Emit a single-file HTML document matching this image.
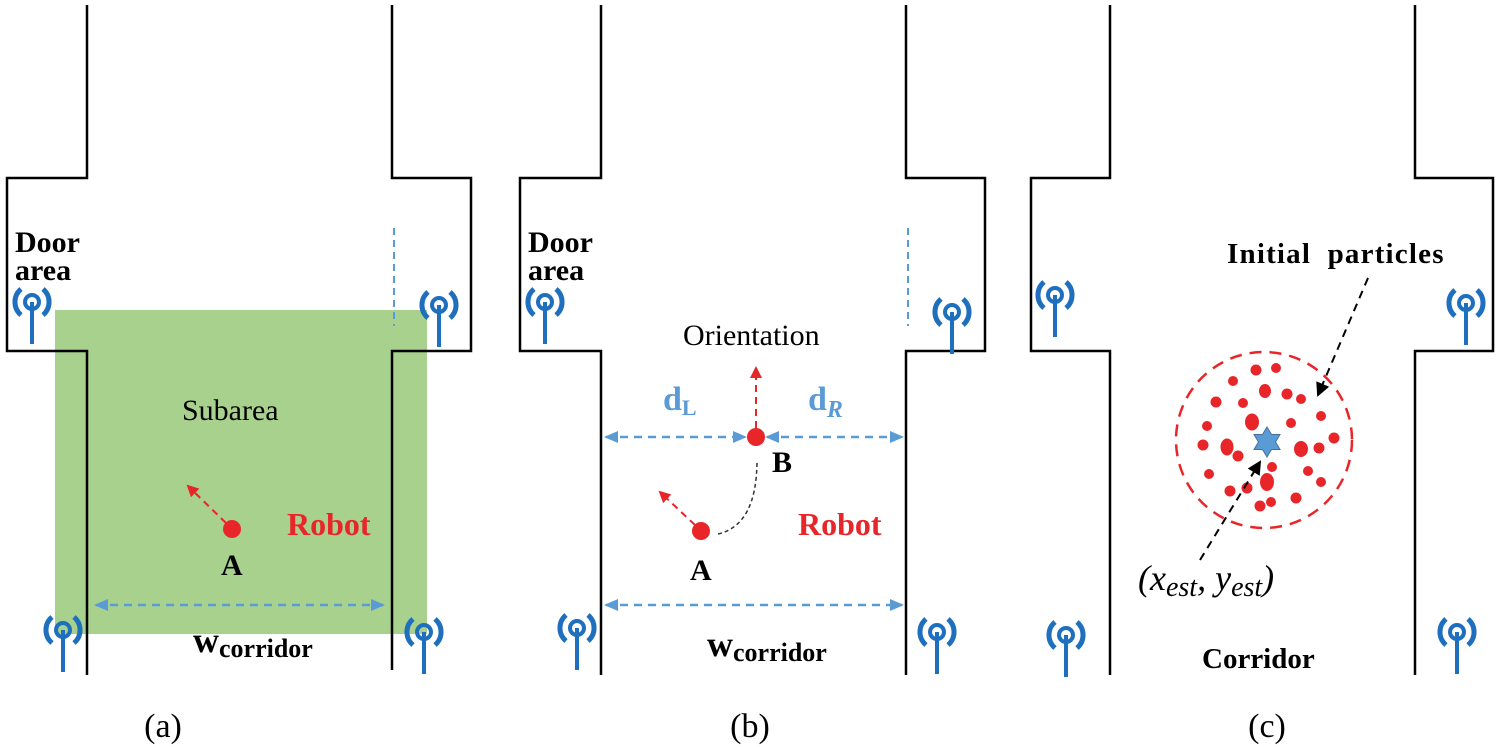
<!DOCTYPE html>
<html><head><meta charset="utf-8"><style>
html,body{margin:0;padding:0;background:#fff}
svg{display:block}
svg text{font-family:"Liberation Serif","DejaVu Serif",serif}
</style></head><body>
<svg width="1500" height="747" viewBox="0 0 1500 747" xmlns="http://www.w3.org/2000/svg" font-family="Liberation Serif, DejaVu Serif, serif">
<defs>
<g id="ant">
<circle cx="0" cy="0" r="7" fill="none" stroke="#1f6fbf" stroke-width="4"/>
<line x1="0" y1="0" x2="0" y2="42" stroke="#1f6fbf" stroke-width="4"/>
<path d="M-11,-13 A17,17 0 0 0 -11,13" fill="none" stroke="#1f6fbf" stroke-width="5"/>
<path d="M11,-13 A17,17 0 0 1 11,13" fill="none" stroke="#1f6fbf" stroke-width="5"/>
</g>
<marker id="bh" markerWidth="14" markerHeight="12" refX="12" refY="6" orient="auto" markerUnits="userSpaceOnUse"><path d="M0,0 L14,6 L0,12 z" fill="#5b9bd5"/></marker>
<marker id="bt" markerWidth="14" markerHeight="12" refX="2" refY="6" orient="auto" markerUnits="userSpaceOnUse"><path d="M14,0 L0,6 L14,12 z" fill="#5b9bd5"/></marker>
<marker id="rh" markerWidth="12" markerHeight="12" refX="10" refY="6" orient="auto" markerUnits="userSpaceOnUse"><path d="M0,0 L12,6 L0,12 z" fill="#e8262a"/></marker>
<marker id="kh" markerWidth="14" markerHeight="14" refX="12" refY="7" orient="auto" markerUnits="userSpaceOnUse"><path d="M0,0 L14,7 L0,14 z" fill="#000"/></marker>
</defs>

<!-- Panel a -->
<rect x="55" y="310" width="372" height="324" fill="#a9d18e"/>
<g fill="none" stroke="#000" stroke-width="2.5">
<polyline points="87,5 87,178 7,178 7,351 87,351 87,675"/>
<polyline points="392,5 392,178 471,178 471,351 392,351 392,670"/>
</g>
<line x1="394" y1="228" x2="394" y2="326" stroke="#5b9bd5" stroke-width="2" stroke-dasharray="7,5"/>
<use href="#ant" x="32" y="302"/>
<use href="#ant" x="439" y="305"/>
<use href="#ant" x="63" y="630"/>
<use href="#ant" x="424" y="632"/>
<text x="15" y="252" font-size="30" font-weight="bold">Door</text>
<text x="15" y="280" font-size="30" font-weight="bold">area</text>
<text x="182" y="420" font-size="30">Subarea</text>
<line x1="226" y1="523" x2="188" y2="486" stroke="#e8262a" stroke-width="2" stroke-dasharray="7,5" marker-end="url(#rh)"/>
<circle cx="232" cy="529" r="9" fill="#e8262a"/>
<text x="287" y="535" font-size="32" font-weight="bold" fill="#e8262a">Robot</text>
<text x="221" y="575" font-size="30" font-weight="bold">A</text>
<line x1="96" y1="605" x2="383" y2="605" stroke="#5b9bd5" stroke-width="2.5" stroke-dasharray="8,6" marker-start="url(#bt)" marker-end="url(#bh)"/>
<text x="193" y="652" font-size="36" font-weight="bold">w<tspan font-size="26" dy="5">corridor</tspan></text>
<text x="163" y="737" font-size="34" text-anchor="middle">(a)</text>

<!-- Panel b -->
<g fill="none" stroke="#000" stroke-width="2.5">
<polyline points="601,5 601,178 520,178 520,351 601,351 601,675"/>
<polyline points="906,5 906,178 985,178 985,351 906,351 906,675"/>
</g>
<line x1="908" y1="228" x2="908" y2="326" stroke="#5b9bd5" stroke-width="2" stroke-dasharray="7,5"/>
<use href="#ant" x="545" y="302"/>
<use href="#ant" x="952" y="312"/>
<use href="#ant" x="577" y="628"/>
<use href="#ant" x="937" y="632"/>
<text x="528" y="252" font-size="30" font-weight="bold">Door</text>
<text x="528" y="280" font-size="30" font-weight="bold">area</text>
<text x="683" y="345" font-size="30">Orientation</text>
<text x="663" y="410" font-size="34" font-weight="bold" fill="#5b9bd5">d<tspan font-size="22" dy="5">L</tspan></text>
<text x="808" y="410" font-size="34" font-weight="bold" fill="#5b9bd5">d<tspan font-size="24" dy="7" font-style="italic">R</tspan></text>
<line x1="756" y1="428" x2="756" y2="368" stroke="#e8262a" stroke-width="2" stroke-dasharray="7,5" marker-end="url(#rh)"/>
<line x1="606" y1="437" x2="745" y2="437" stroke="#5b9bd5" stroke-width="2.5" stroke-dasharray="8,6" marker-start="url(#bt)" marker-end="url(#bh)"/>
<line x1="767" y1="437" x2="902" y2="437" stroke="#5b9bd5" stroke-width="2.5" stroke-dasharray="8,6" marker-start="url(#bt)" marker-end="url(#bh)"/>
<circle cx="756" cy="437" r="9" fill="#e8262a"/>
<text x="772" y="472" font-size="30" font-weight="bold">B</text>
<path d="M718,534 Q757,525 757,460" fill="none" stroke="#333" stroke-width="1.5" stroke-dasharray="4,3"/>
<line x1="695" y1="525" x2="660" y2="492" stroke="#e8262a" stroke-width="2" stroke-dasharray="7,5" marker-end="url(#rh)"/>
<circle cx="701" cy="531" r="9" fill="#e8262a"/>
<text x="798" y="535" font-size="32" font-weight="bold" fill="#e8262a">Robot</text>
<text x="690" y="580" font-size="30" font-weight="bold">A</text>
<line x1="606" y1="605" x2="902" y2="605" stroke="#5b9bd5" stroke-width="2.5" stroke-dasharray="8,6" marker-start="url(#bt)" marker-end="url(#bh)"/>
<text x="707" y="656" font-size="36" font-weight="bold">w<tspan font-size="26" dy="5">corridor</tspan></text>
<text x="750" y="737" font-size="34" text-anchor="middle">(b)</text>

<!-- Panel c -->
<g fill="none" stroke="#000" stroke-width="2.5">
<polyline points="1110,5 1110,178 1031,178 1031,351 1110,351 1110,675"/>
<polyline points="1415,5 1415,178 1493,178 1493,351 1415,351 1415,675"/>
</g>
<use href="#ant" x="1055" y="295"/>
<use href="#ant" x="1466" y="303"/>
<use href="#ant" x="1066" y="635"/>
<use href="#ant" x="1457" y="632"/>
<text x="1227" y="263" font-size="29" font-weight="bold" letter-spacing="1.2" word-spacing="8">Initial particles</text>
<circle cx="1264" cy="440" r="88" fill="none" stroke="#e8262a" stroke-width="2.5" stroke-dasharray="12,8"/>
<g fill="#e8262a">
<circle cx="1256" cy="370" r="5.5"/><circle cx="1276" cy="368" r="5"/><circle cx="1233" cy="381" r="5"/>
<ellipse cx="1265" cy="391" rx="6" ry="7"/><circle cx="1287" cy="394" r="5.5"/><circle cx="1301" cy="399" r="5"/>
<circle cx="1216" cy="402" r="5.5"/><circle cx="1243" cy="403" r="5"/><circle cx="1321" cy="416" r="5"/>
<ellipse cx="1252" cy="422" rx="7" ry="8.5"/><circle cx="1291" cy="423" r="5"/><circle cx="1207" cy="426" r="5"/>
<circle cx="1334" cy="438" r="5.5"/><circle cx="1203" cy="445" r="5.5"/><ellipse cx="1227" cy="447" rx="6.5" ry="8.5"/>
<circle cx="1238" cy="456" r="5.5"/><ellipse cx="1301" cy="449" rx="7" ry="8"/><circle cx="1319" cy="448" r="5.5"/>
<circle cx="1272" cy="467" r="5"/><circle cx="1209" cy="474" r="5"/><circle cx="1308" cy="471" r="5"/>
<ellipse cx="1267" cy="482" rx="7" ry="9"/><circle cx="1321" cy="482" r="5"/><circle cx="1230" cy="491" r="5.5"/>
<circle cx="1247" cy="488" r="5.5"/><circle cx="1296" cy="498" r="5.5"/><circle cx="1260" cy="506" r="5.5"/><circle cx="1271" cy="502" r="5"/>
</g>
<polygon points="1267,427 1271.5,434.5 1280,434.5 1275.5,442 1280,449.5 1271.5,449.5 1267,457 1262.5,449.5 1254,449.5 1258.5,442 1254,434.5 1262.5,434.5" fill="#5b9bd5" stroke="#41719c" stroke-width="1"/>
<line x1="1368" y1="278" x2="1318" y2="395" stroke="#000" stroke-width="2" stroke-dasharray="8,6" marker-end="url(#kh)"/>
<line x1="1200" y1="560" x2="1260" y2="462" stroke="#000" stroke-width="2" stroke-dasharray="8,6" marker-end="url(#kh)"/>
<text x="1138" y="590" font-size="36" font-style="italic">(x<tspan font-size="28" dy="6">est</tspan><tspan dy="-6">, y</tspan><tspan font-size="28" dy="6">est</tspan><tspan dy="-6">)</tspan></text>
<text x="1202" y="668" font-size="29" font-weight="bold">Corridor</text>
<text x="1267" y="737" font-size="34" text-anchor="middle">(c)</text>
</svg>
</body></html>
